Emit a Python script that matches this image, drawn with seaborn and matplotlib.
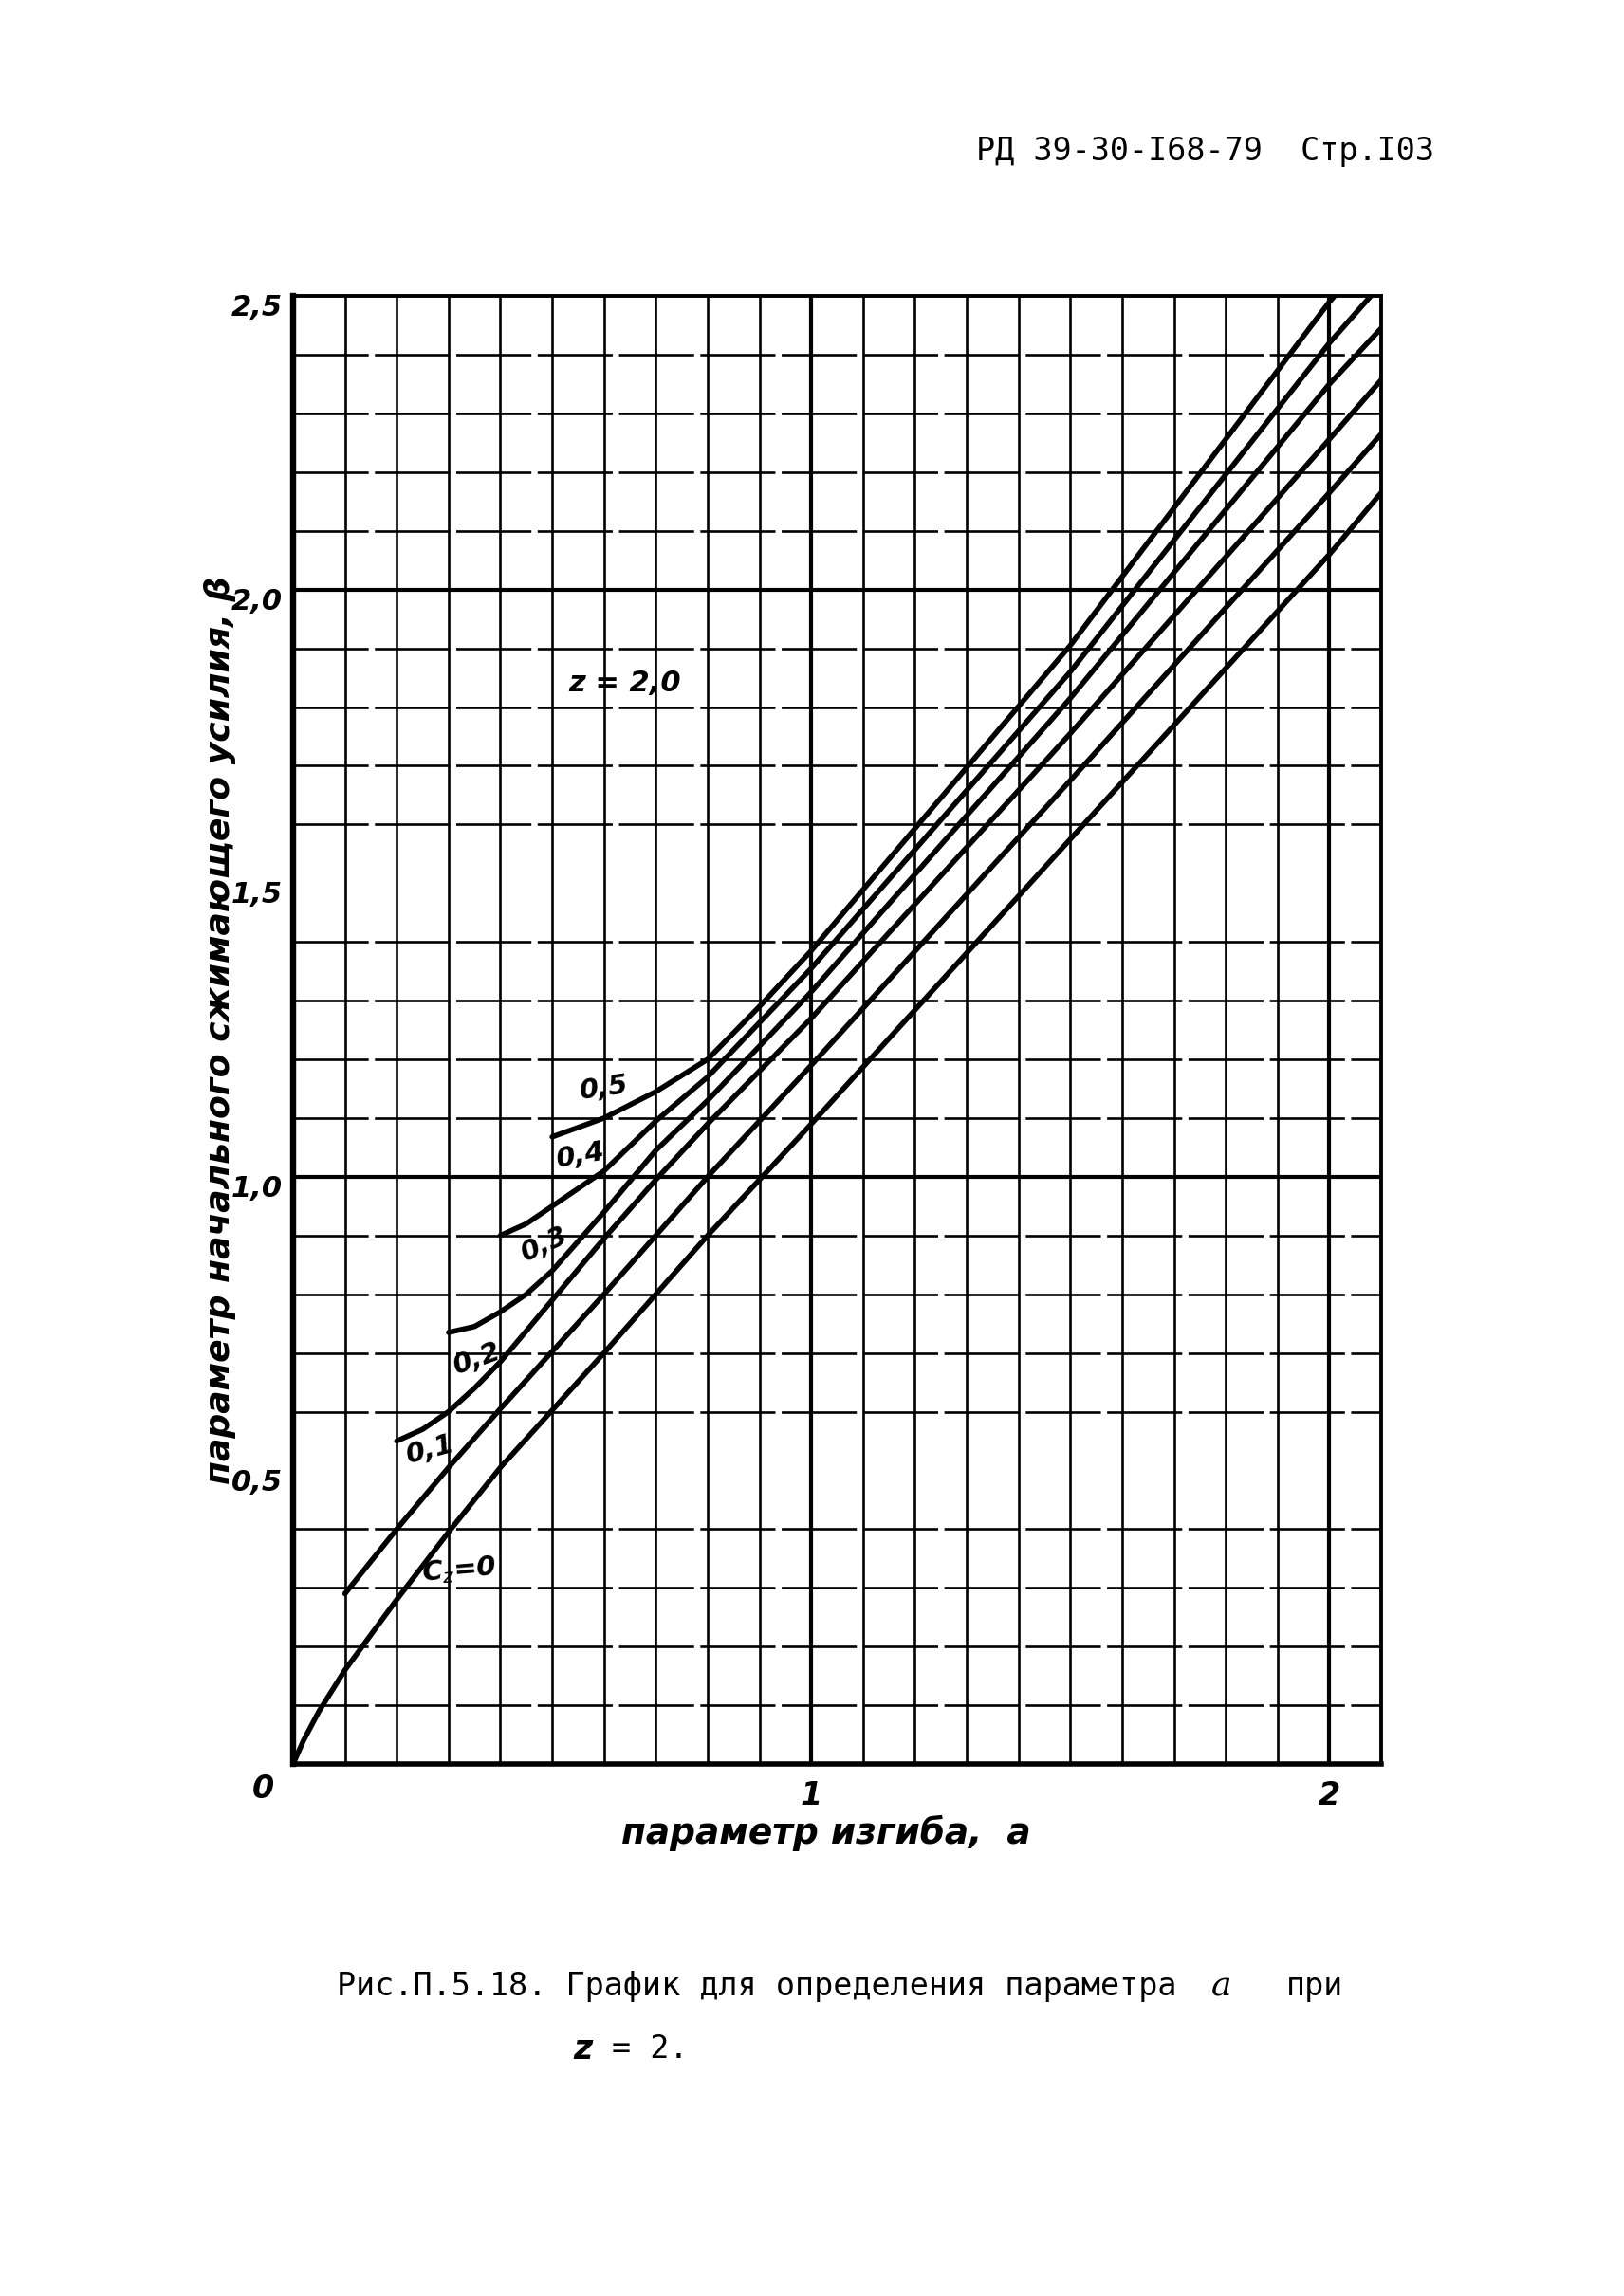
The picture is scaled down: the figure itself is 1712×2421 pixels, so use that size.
import numpy as np
import pandas as pd
import seaborn as sns
import matplotlib
matplotlib.use('Agg')
import matplotlib.pyplot as plt
import matplotlib.transforms as mtransforms

# beta(a) curves for z = 2.0, one curve per value of c
c_labels = ['0', '0,1', '0,2', '0,3', '0,4', '0,5']

a_c0 = [0.0, 0.02, 0.05, 0.1, 0.15, 0.2, 0.3, 0.4, 0.6, 0.8, 1.0, 1.5, 2.0, 2.1]
b_c0 = [0.0, 0.04, 0.09, 0.16, 0.22, 0.28, 0.395, 0.505, 0.70, 0.90, 1.09, 1.575, 2.06, 2.165]

a_c1 = [0.1, 0.2, 0.3, 0.4, 0.6, 0.8, 1.0, 1.5, 2.0, 2.1]
b_c1 = [0.29, 0.40, 0.505, 0.605, 0.80, 1.0, 1.19, 1.675, 2.165, 2.265]

a_c2 = [0.2, 0.25, 0.3, 0.35, 0.4, 0.5, 0.6, 0.7, 0.8, 1.0, 1.5, 2.0, 2.1]
b_c2 = [0.55, 0.57, 0.60, 0.64, 0.685, 0.79, 0.895, 0.995, 1.09, 1.27, 1.755, 2.256, 2.357]

a_c3 = [0.3, 0.35, 0.4, 0.45, 0.5, 0.6, 0.7, 0.8, 1.0, 1.5, 2.0, 2.1]
b_c3 = [0.735, 0.745, 0.77, 0.80, 0.84, 0.94, 1.045, 1.13, 1.315, 1.815, 2.35, 2.445]

a_c4 = [0.4, 0.45, 0.5, 0.6, 0.7, 0.8, 1.0, 1.5, 2.0, 2.08]
b_c4 = [0.90, 0.92, 0.95, 1.01, 1.095, 1.17, 1.355, 1.86, 2.42, 2.5]

a_c5 = [0.5, 0.6, 0.7, 0.8, 0.9, 1.0, 1.5, 2.0, 2.01]
b_c5 = [1.068, 1.10, 1.145, 1.20, 1.29, 1.385, 1.905, 2.49, 2.5]

x_ticks = [1, 2]
x_ticklabels = ['1', '2']
y_ticks = [0.5, 1.0, 1.5, 2.0, 2.5]
y_ticklabels = ['0,5', '1,0', '1,5', '2,0', '2,5']

curves = []
for lab, a, b in zip(c_labels,
                     [a_c0, a_c1, a_c2, a_c3, a_c4, a_c5],
                     [b_c0, b_c1, b_c2, b_c3, b_c4, b_c5]):
    curves.append(pd.DataFrame({'a': a, 'beta': b, 'c': lab}))
df = pd.concat(curves, ignore_index=True)

sns.set_style('white')
plt.rcParams['font.family'] = ['DejaVu Sans']
plt.rcParams['mathtext.fontset'] = 'dejavusans'
for key in ['text.color', 'axes.labelcolor', 'xtick.color', 'ytick.color']:
    plt.rcParams[key] = 'black'

fig = plt.figure(figsize=(17.12, 24.21), dpi=100)
ax = fig.add_axes([0.1805, 0.2317, 0.670, 0.6394])

# grid of the chart paper
ax.set_xticks(np.arange(0, 2.101, 0.1), minor=True)
ax.set_yticks(np.arange(0, 2.501, 0.1), minor=True)
ax.grid(which='minor', axis='x', color='black', lw=1.9, ls='-')
ax.grid(which='minor', axis='y', color='black', lw=1.9, ls=(0, (30, 2.5)))
ax.grid(which='major', visible=False)
for v in [1, 2]:
    ax.axvline(v, color='black', lw=3.0, zorder=1)
    ax.axhline(v, color='black', lw=3.0, zorder=1)

sns.lineplot(data=df, x='a', y='beta', units='c', estimator=None, sort=False,
             color='black', lw=4.0, legend=False, ax=ax, zorder=3)

ax.set_xlim(0, 2.1)
ax.set_ylim(0, 2.5)

ax.set_xticks(x_ticks)
ax.set_xticklabels(x_ticklabels, fontsize=24, style='italic', fontweight='bold')
ax.set_yticks(y_ticks)
ax.set_yticklabels(y_ticklabels, fontsize=22, style='italic', fontweight='bold')
ax.tick_params(axis='both', which='both', length=0)
ax.tick_params(axis='x', pad=12)
ax.tick_params(axis='y', pad=8)
off = mtransforms.ScaledTranslation(0, -7 / 72, fig.dpi_scale_trans)
for t in ax.get_yticklabels():
    t.set_transform(t.get_transform() + off)

ax.text(-0.057, -0.042, '0', fontsize=24, style='italic', fontweight='bold',
        ha='center', va='center', clip_on=False)

ax.set_xlabel('')
ax.set_ylabel('')
ax.text(-0.067, 0.5, 'параметр начального сжимающего усилия, β',
        transform=ax.transAxes, rotation=90, ha='center', va='center',
        fontsize=26, style='italic', fontweight='bold')
ax.text(0.49, -0.047, 'параметр изгиба,  а', transform=ax.transAxes,
        ha='center', va='center', fontsize=27, style='italic', fontweight='bold')

for side, lw in [('left', 4.6), ('bottom', 4.0), ('right', 2.8), ('top', 2.8)]:
    ax.spines[side].set_visible(True)
    ax.spines[side].set_color('black')
    ax.spines[side].set_linewidth(lw)

# curve labels
lab_kw = dict(fontsize=21, style='italic', fontweight='bold', ha='center',
              va='center', zorder=4)
ax.text(0.60, 1.15, '0,5', rotation=8, **lab_kw)
ax.text(0.555, 1.035, '0,4', rotation=10, **lab_kw)
ax.text(0.485, 0.885, '0,3', rotation=25, **lab_kw)
ax.text(0.355, 0.69, '0,2', rotation=20, **lab_kw)
ax.text(0.265, 0.535, '0,1', rotation=15, **lab_kw)
ax.text(0.32, 0.33, r'C$_z$=0', rotation=5, **lab_kw)
ax.text(0.64, 1.84, 'z = 2,0', fontsize=22, style='italic', fontweight='bold',
        ha='center', va='center')

# page header and caption
fig.text(0.742, 0.9343, 'РД 39-30-I68-79  Стр.I03', family='DejaVu Sans Mono',
         fontsize=24, ha='center', va='center')
fig.text(0.2074, 0.1347, 'Рис.П.5.18. График для определения параметра',
         family='DejaVu Sans Mono', fontsize=24, ha='left', va='center')
fig.text(0.752, 0.1347, 'a', family='DejaVu Serif', style='italic',
         fontsize=26, ha='center', va='center')
fig.text(0.792, 0.1347, 'при', family='DejaVu Sans Mono', fontsize=24,
         ha='left', va='center')
fig.text(0.359, 0.1074, 'z', fontsize=25, fontweight='bold', style='italic',
         ha='center', va='center')
fig.text(0.377, 0.1074, '= 2.', family='DejaVu Sans Mono', fontsize=24,
         ha='left', va='center')

fig.savefig('out.png', dpi=100, facecolor='white')
